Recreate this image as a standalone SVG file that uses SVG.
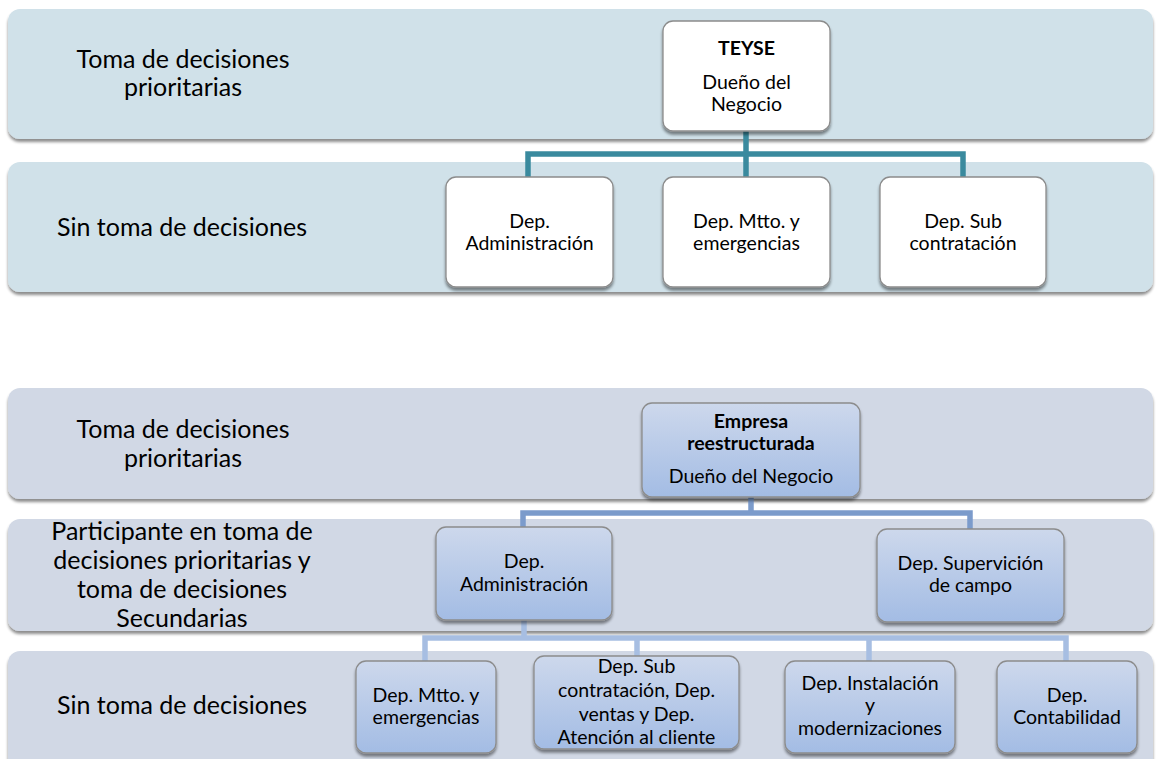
<svg xmlns="http://www.w3.org/2000/svg" width="1156" height="759" viewBox="0 0 1156 759">
  <defs>
    <filter id="shadow" x="-5%" y="-10%" width="110%" height="130%">
      <feGaussianBlur in="SourceAlpha" stdDeviation="1.5"/>
      <feOffset dx="0" dy="3" result="b"/>
      <feComponentTransfer><feFuncA type="linear" slope="0.45"/></feComponentTransfer>
      <feMerge><feMergeNode/><feMergeNode in="SourceGraphic"/></feMerge>
    </filter>
    <linearGradient id="blueBox" x1="0" y1="0" x2="0" y2="1">
      <stop offset="0" stop-color="#CDD8EC"/>
      <stop offset="1" stop-color="#A3BCE4"/>
    </linearGradient>
  </defs>
  <style>
    .bandTop { fill: #D0E1E9; filter: url(#shadow); }
    .bandBot { fill: #D1D8E5; filter: url(#shadow); }
    .boxW { fill: #FFFFFF; stroke: #8C8C8C; stroke-width: 1.3; filter: url(#shadow); }
    .boxB { fill: url(#blueBox); stroke: #8C8C8C; stroke-width: 1.3; filter: url(#shadow); }
    .lbl { font-family: Lato, "Liberation Sans", sans-serif; font-size: 25px; fill: #000; text-anchor: middle; }
    .txt { font-family: Lato, "Liberation Sans", sans-serif; font-size: 19.5px; fill: #000; text-anchor: middle; }
    .bold { font-weight: bold; }
    .c1 { fill: none; stroke: #3A8A9E; stroke-width: 5.5; }
    .c2 { fill: none; stroke: #7B9BCB; stroke-width: 5.5; }
    .c3 { fill: none; stroke: #A7BEE2; stroke-width: 5.5; }
  </style>

  <!-- upper chart: level bands -->
  <g id="bands-top">
    <rect class="bandTop" x="8" y="9" width="1145" height="130" rx="12"/>
    <rect class="bandTop" x="8" y="162" width="1145" height="130" rx="12"/>
    <text class="lbl" x="183" y="68">Toma de decisiones</text>
    <text class="lbl" x="183" y="96">prioritarias</text>
    <text class="lbl" x="182" y="236">Sin toma de decisiones</text>
  </g>

  <!-- lower chart: level bands -->
  <g id="bands-bottom">
    <rect class="bandBot" x="8" y="388" width="1145" height="111" rx="12"/>
    <rect class="bandBot" x="8" y="519" width="1145" height="112" rx="12"/>
    <rect class="bandBot" x="8" y="651" width="1145" height="130" rx="12"/>
    <text class="lbl" x="183" y="438">Toma de decisiones</text>
    <text class="lbl" x="183" y="467">prioritarias</text>
    <text class="lbl" x="182" y="540">Participante en toma de</text>
    <text class="lbl" x="182" y="569">decisiones prioritarias y</text>
    <text class="lbl" x="182" y="598">toma de decisiones</text>
    <text class="lbl" x="182" y="627">Secundarias</text>
    <text class="lbl" x="182" y="714">Sin toma de decisiones</text>
  </g>

  <!-- connectors -->
  <g id="connectors">
    <path class="c1" d="M746 131 V154 M528 177 V154 H963 V177 M746 154 V177"/>
    <path class="c2" d="M751 497 V513 M523 527 V513 H970 V529"/>
    <path class="c3" d="M524 620 V638 M425 661 V638 H1066 V661 M637 638 V656 M869 638 V661"/>
  </g>

  <!-- upper chart nodes -->
  <g id="teyse">
    <rect class="boxW" x="663" y="21" width="167" height="110" rx="10"/>
    <text class="txt bold" x="746.5" y="55">TEYSE</text>
    <text class="txt" x="746.5" y="89">Dueño del</text>
    <text class="txt" x="746.5" y="111">Negocio</text>
  </g>
  <g id="top-admin">
    <rect class="boxW" x="446" y="177" width="167" height="110" rx="10"/>
    <text class="txt" x="529.5" y="228">Dep.</text>
    <text class="txt" x="529.5" y="250">Administración</text>
  </g>
  <g id="top-mtto">
    <rect class="boxW" x="663" y="177" width="167" height="110" rx="10"/>
    <text class="txt" x="746.5" y="228">Dep. Mtto. y</text>
    <text class="txt" x="746.5" y="250">emergencias</text>
  </g>
  <g id="top-sub">
    <rect class="boxW" x="880" y="177" width="166" height="110" rx="10"/>
    <text class="txt" x="963" y="228">Dep. Sub</text>
    <text class="txt" x="963" y="250">contratación</text>
  </g>

  <!-- lower chart nodes -->
  <g id="empresa">
    <rect class="boxB" x="642" y="403" width="218" height="94" rx="10"/>
    <text class="txt bold" x="751" y="428">Empresa</text>
    <text class="txt bold" x="751" y="450">reestructurada</text>
    <text class="txt" x="751" y="483">Dueño del Negocio</text>
  </g>
  <g id="admin">
    <rect class="boxB" x="436" y="527" width="176" height="93" rx="10"/>
    <text class="txt" x="524" y="568">Dep.</text>
    <text class="txt" x="524" y="591">Administración</text>
  </g>
  <g id="supervision">
    <rect class="boxB" x="877" y="529" width="187" height="93" rx="10"/>
    <text class="txt" x="970.5" y="570">Dep. Supervición</text>
    <text class="txt" x="970.5" y="592">de campo</text>
  </g>
  <g id="mtto">
    <rect class="boxB" x="356" y="661" width="140" height="92" rx="10"/>
    <text class="txt" x="426" y="702">Dep. Mtto. y</text>
    <text class="txt" x="426" y="724">emergencias</text>
  </g>
  <g id="subcontratacion">
    <rect class="boxB" x="534" y="656" width="205" height="93" rx="10"/>
    <text class="txt" x="636.5" y="673">Dep. Sub</text>
    <text class="txt" x="636.5" y="697">contratación, Dep.</text>
    <text class="txt" x="636.5" y="721">ventas y Dep.</text>
    <text class="txt" x="636.5" y="744">Atención al cliente</text>
  </g>
  <g id="instalacion">
    <rect class="boxB" x="785" y="661" width="170" height="92" rx="10"/>
    <text class="txt" x="870" y="690">Dep. Instalación</text>
    <text class="txt" x="870" y="712">y</text>
    <text class="txt" x="870" y="735">modernizaciones</text>
  </g>
  <g id="contabilidad">
    <rect class="boxB" x="997" y="661" width="140" height="92" rx="10"/>
    <text class="txt" x="1067" y="702">Dep.</text>
    <text class="txt" x="1067" y="724">Contabilidad</text>
  </g>
</svg>
